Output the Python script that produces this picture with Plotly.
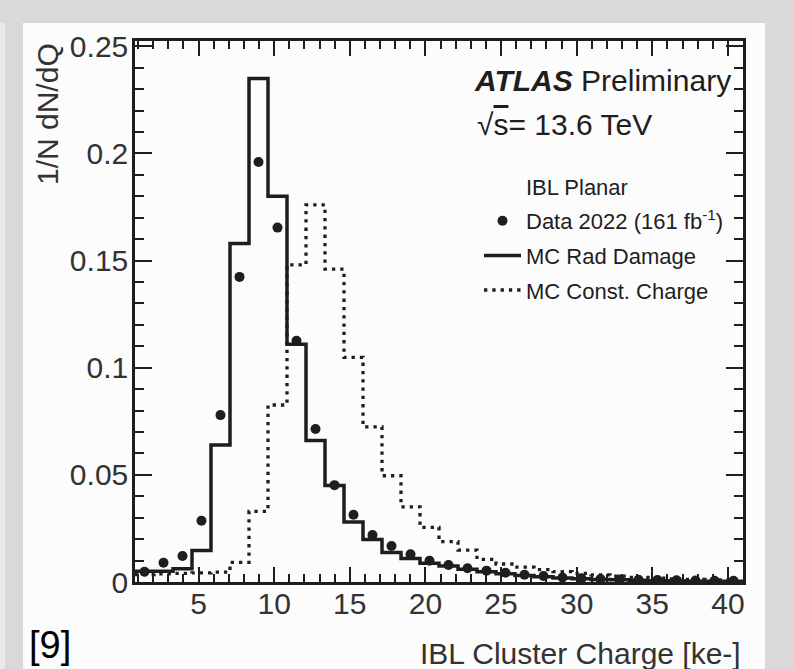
import numpy as np
import plotly.graph_objects as go

# ---------------- data ----------------
bin_low, bin_high, n_bins = 0.8, 41.0, 32
edges = np.linspace(bin_low, bin_high, n_bins + 1)
centers = 0.5 * (edges[:-1] + edges[1:])

mc_rad_damage = [0.005, 0.005, 0.0062, 0.0147, 0.064, 0.158, 0.235, 0.180, 0.111, 0.066,
                 0.045, 0.028, 0.0198, 0.0138, 0.011, 0.0087, 0.0075, 0.006, 0.0048, 0.0038,
                 0.003, 0.0024, 0.0019, 0.0015, 0.0012, 0.001, 0.0008, 0.0006, 0.0005, 0.0004,
                 0.0003, 0.0003]
mc_const_charge = [0.0035, 0.0038, 0.004, 0.0043, 0.0046, 0.0092, 0.033, 0.0826, 0.148, 0.176,
                   0.146, 0.1048, 0.0724, 0.0496, 0.0351, 0.0255, 0.0188, 0.0149, 0.0106, 0.0084,
                   0.0069, 0.0058, 0.0048, 0.004, 0.0033, 0.0027, 0.0022, 0.0018, 0.0015, 0.0012,
                   0.001, 0.0008]
data_2022 = [0.0048, 0.009, 0.0121, 0.0286, 0.0779, 0.1424, 0.196, 0.1654, 0.1126, 0.0714,
             0.0452, 0.0314, 0.0219, 0.0168, 0.0129, 0.0099, 0.0079, 0.0064, 0.0053, 0.0043,
             0.0034, 0.0028, 0.0021, 0.0017, 0.0014, 0.0012, 0.0010, 0.0009, 0.0008, 0.0007,
             0.0006, 0.0006]

x_title = "IBL Cluster Charge [ke-]"
y_title = "1/N dN/dQ"

# ---------------- layout helpers ----------------
W, H = 794, 669
L, R, T, B = 135, 743, 41, 582
def px(x):
    return (x - L) / (R - L)
def py(y):
    return (B - y) / (B - T)

FONT = "Liberation Sans, Arial, Helvetica, sans-serif"
INK = "#1e1e1e"

fig = go.Figure()

def step_xy(vals):
    return list(edges), list(vals) + [vals[-1]]

xs, ys = step_xy(mc_const_charge)
fig.add_trace(go.Scatter(x=xs, y=ys, mode="lines", line_shape="hv",
                         line=dict(color=INK, width=3.3, dash="3.3px,5px"),
                         name="MC Const. Charge", legendgroup="c", legendrank=3))
xs, ys = step_xy(mc_rad_damage)
fig.add_trace(go.Scatter(x=xs, y=ys, mode="lines", line_shape="hv",
                         line=dict(color=INK, width=3.5),
                         name="MC Rad Damage", legendgroup="b", legendrank=2))
fig.add_trace(go.Scatter(x=centers, y=data_2022, mode="markers",
                         marker=dict(color=INK, size=10),
                         name="Data 2022 (161 fb<sup>-1</sup>)", legendgroup="a", legendrank=1))

axis_common = dict(
    showgrid=False, zeroline=False, showline=True, linecolor=INK, linewidth=2.5,
    mirror="allticks", ticks="inside", tickcolor=INK, tickwidth=2,
    tickfont=dict(family=FONT, size=30, color="#333"),
)
fig.update_xaxes(range=[bin_low, bin_high], tick0=0, dtick=5, ticklen=15,
                 ticklabelstandoff=-7,
                 minor=dict(ticks="inside", dtick=1, ticklen=8, tickcolor=INK, tickwidth=1.5),
                 **axis_common)
fig.update_yaxes(range=[0, 0.2525], tick0=0, dtick=0.05, ticklen=17,
                 ticklabelstandoff=-2,
                 minor=dict(ticks="inside", dtick=0.01, ticklen=9, tickcolor=INK, tickwidth=1.5),
                 **axis_common)

ann = []
ann.append(dict(text="<b><i>ATLAS</i></b> Preliminary", x=px(733), y=py(80),
                xanchor="right", yanchor="middle", font=dict(family=FONT, size=30, color=INK)))
ann.append(dict(text="√<span style='text-decoration:overline'>s</span>= 13.6 TeV",
                x=px(475), y=py(125), xanchor="left", yanchor="middle",
                font=dict(family=FONT, size=30, color=INK)))
ann.append(dict(text="IBL Planar", x=px(524), y=py(187), xanchor="left", yanchor="middle",
                font=dict(family=FONT, size=22, color=INK)))
ann.append(dict(text=y_title, x=px(47), y=py(41), xanchor="center", yanchor="top",
                textangle=-90, font=dict(family=FONT, size=30, color="#333")))
ann.append(dict(text=x_title, x=px(743), y=py(653), xanchor="right", yanchor="middle",
                font=dict(family=FONT, size=30, color="#333")))
ann.append(dict(text="[9]", x=px(27), y=py(645), xanchor="left", yanchor="middle",
                font=dict(family=FONT, size=38, color="black")))
for a in ann:
    a.update(xref="paper", yref="paper", showarrow=False)

shapes = [
    dict(type="rect", xref="paper", yref="paper", x0=px(23), x1=px(765), y0=py(669), y1=py(23),
         fillcolor="#fcfcfc", line=dict(width=0), layer="below"),
    dict(type="rect", xref="paper", yref="paper", x0=px(0), x1=px(5), y0=py(669), y1=py(23),
         fillcolor="#e9e9e9", line=dict(width=0), layer="below"),
]

fig.update_layout(
    width=W, height=H,
    margin=dict(l=L, r=W - R, t=T, b=H - B, autoexpand=False),
    paper_bgcolor="#d9d9d9", plot_bgcolor="#fcfcfc",
    annotations=ann, shapes=shapes,
    showlegend=True,
    legend=dict(x=px(479), y=py(200), xanchor="left", yanchor="top",
                bgcolor="rgba(0,0,0,0)", borderwidth=0,
                font=dict(family=FONT, size=22, color=INK),
                traceorder="grouped", tracegroupgap=3, itemwidth=37),
)

fig.write_html("out.html", config={"displayModeBar": False},
               post_script="document.body.style.margin='0';document.body.style.background='#d9d9d9';")
